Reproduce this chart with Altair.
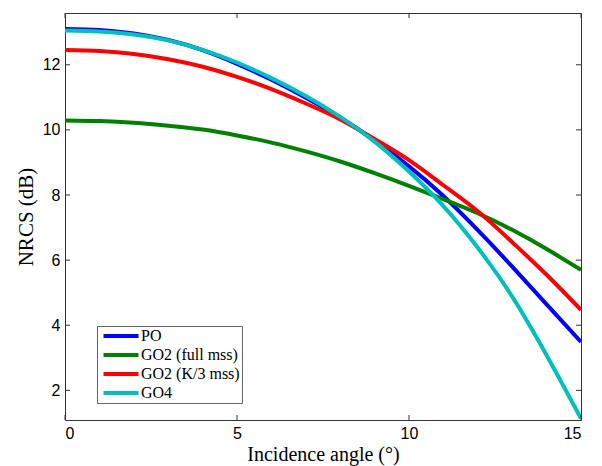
import altair as alt
import pandas as pd

angles = list(range(0, 16))
po = [13.10, 13.07, 12.96, 12.76, 12.45, 12.03, 11.54, 10.99, 10.38, 9.67, 8.88, 7.97, 6.92, 5.80, 4.64, 3.49]
go2_full = [10.29, 10.27, 10.22, 10.13, 10.01, 9.83, 9.61, 9.34, 9.03, 8.67, 8.28, 7.87, 7.44, 6.93, 6.34, 5.70]
go2_k3 = [12.45, 12.42, 12.33, 12.17, 11.94, 11.63, 11.25, 10.81, 10.32, 9.72, 9.07, 8.30, 7.50, 6.55, 5.55, 4.47]
go4 = [13.05, 13.02, 12.93, 12.75, 12.46, 12.07, 11.59, 11.04, 10.40, 9.64, 8.72, 7.66, 6.38, 4.88, 3.08, 1.14]

series_names = ["PO", "GO2 (full mss)", "GO2 (K/3 mss)", "GO4"]
series_colors = ["#0000FF", "#008000", "#FF0000", "#00BFBF"]
x_ticks = [0, 5, 10, 15]
y_ticks = [2, 4, 6, 8, 10, 12]

rows = []
for name, vals in zip(series_names, [po, go2_full, go2_k3, go4]):
    for a, v in zip(angles, vals):
        rows.append({"angle": a, "nrcs": v, "model": name})
df = pd.DataFrame(rows)

W, H = 516, 407
xs = alt.Scale(domain=[0, 15], nice=False, zero=False)
ys = alt.Scale(domain=[1.09, 13.59], nice=False, zero=False)

lines = alt.Chart(df).mark_line(strokeWidth=4, interpolate="natural", clip=True).encode(
    x=alt.X("angle:Q", scale=xs,
            axis=alt.Axis(values=x_ticks, title="Incidence angle (°)", grid=False, ticks=False,
                          tickSize=0, domain=False, labelPadding=5, titlePadding=3,
                          titleFontSize=20)),
    y=alt.Y("nrcs:Q", scale=ys,
            axis=alt.Axis(values=y_ticks, title="NRCS (dB)", grid=False, ticks=False,
                          tickSize=0, domain=False, labelPadding=5, titlePadding=6,
                          titleFontSize=21)),
    color=alt.Color("model:N", sort=series_names,
                    scale=alt.Scale(domain=series_names, range=series_colors),
                    legend=alt.Legend(title=None, orient="none", legendX=32, legendY=313,
                                      symbolType="M-1,0H9", symbolSize=49, symbolStrokeWidth=4,
                                      labelFont="Liberation Serif", labelFontSize=16,
                                      labelColor="black", labelOffset=26, rowPadding=3,
                                      strokeColor="#666", fillColor="white", padding=2,
                                      labelLimit=300)),
)

xt = pd.DataFrame({"t": x_ticks})
yt = pd.DataFrame({"t": y_ticks})
tick_style = dict(color="#333", strokeWidth=1)
xb = alt.Chart(xt).mark_rule(**tick_style).encode(x=alt.X("t:Q", scale=xs), y=alt.value(H), y2=alt.value(H - 5))
xtp = alt.Chart(xt).mark_rule(**tick_style).encode(x=alt.X("t:Q", scale=xs), y=alt.value(0), y2=alt.value(5))
yl = alt.Chart(yt).mark_rule(**tick_style).encode(y=alt.Y("t:Q", scale=ys), x=alt.value(0), x2=alt.value(5))
yr = alt.Chart(yt).mark_rule(**tick_style).encode(y=alt.Y("t:Q", scale=ys), x=alt.value(W), x2=alt.value(W - 5))

chart = alt.layer(lines, xb, xtp, yl, yr).properties(
    width=W, height=H,
    autosize=alt.AutoSizeParams(type="none"),
    padding={"left": 57, "top": 5, "right": 12, "bottom": 46},
).configure_view(stroke="#333", strokeWidth=1).configure_axis(
    labelFont="Liberation Sans", labelFontSize=16, labelColor="black",
    titleFont="Liberation Serif", titleFontWeight="normal", titleColor="black",
)

chart.save("out.html", embed_options={"renderer": "svg", "actions": False})
